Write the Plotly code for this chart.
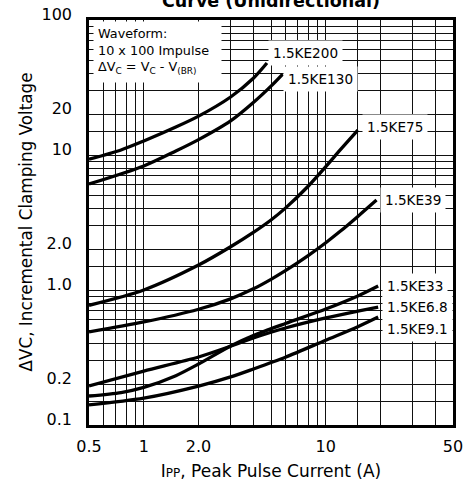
import numpy as np
import plotly.graph_objects as go

# ---- data (IPP in A, delta VC in V) ----
ipp_ke200 = [0.5, 0.75, 1.0, 1.5, 2.0, 3.0, 4.0, 4.75]
dvc_ke200 = [9.3, 10.9, 12.7, 16.1, 19.4, 26.9, 37.0, 48.0]

ipp_ke130 = [0.5, 1.0, 1.5, 2.0, 3.0, 4.0, 5.0, 5.8]
dvc_ke130 = [6.1, 8.3, 10.7, 13.0, 17.9, 24.5, 32.4, 39.8]

ipp_ke75 = [0.5, 1.0, 2.0, 3.0, 4.0, 5.0, 6.0, 8.0, 10.0, 12.0, 15.0]
dvc_ke75 = [0.77, 1.0, 1.53, 2.09, 2.67, 3.3, 4.04, 5.87, 8.2, 10.9, 15.3]

ipp_ke39 = [0.5, 1.0, 2.0, 3.0, 4.0, 5.0, 6.0, 8.0, 10.0, 12.0, 15.0, 19.0]
dvc_ke39 = [0.49, 0.58, 0.72, 0.86, 1.02, 1.2, 1.39, 1.8, 2.24, 2.72, 3.51, 4.64]

ipp_ke33 = [0.5, 0.75, 1.0, 1.5, 2.0, 3.0, 4.0, 6.0, 10.0, 15.0, 19.4]
dvc_ke33 = [0.164, 0.174, 0.19, 0.232, 0.283, 0.385, 0.46, 0.565, 0.723, 0.903, 1.07]

ipp_ke6v8 = [0.5, 1.0, 2.0, 3.0, 4.0, 6.0, 10.0, 15.0, 19.4]
dvc_ke6v8 = [0.195, 0.251, 0.319, 0.383, 0.441, 0.523, 0.621, 0.698, 0.748]

ipp_ke9v1 = [0.5, 1.0, 2.0, 3.0, 4.0, 6.0, 10.0, 15.0, 19.4]
dvc_ke9v1 = [0.141, 0.158, 0.194, 0.227, 0.26, 0.318, 0.425, 0.535, 0.631]

series = [
    ("1.5KE200", ipp_ke200, dvc_ke200),
    ("1.5KE130", ipp_ke130, dvc_ke130),
    ("1.5KE75", ipp_ke75, dvc_ke75),
    ("1.5KE39", ipp_ke39, dvc_ke39),
    ("1.5KE33", ipp_ke33, dvc_ke33),
    ("1.5KE6.8", ipp_ke6v8, dvc_ke6v8),
    ("1.5KE9.1", ipp_ke9v1, dvc_ke9v1),
]

x_tickvals = [0.5, 1, 2, 10, 50]
x_ticktext = ["0.5", "1", "2.0", "10", "50"]
x_minor = [0.6, 0.7, 0.8, 0.9, 3, 4, 5, 6, 7, 8, 9, 15, 20, 30, 40]

y_tickvals = [0.1, 0.2, 1, 2, 10, 20, 100]
y_ticktext = ["0.1", "0.2", "1.0", "2.0", "10", "20", "100"]
y_minor = [0.15, 0.3, 0.4, 0.5, 0.6, 0.7, 0.8, 0.9, 1.5, 3, 4, 5, 6, 7, 8, 9,
           15, 30, 40, 50, 60, 70, 80, 90]

# label offsets (px) relative to the curve end
label_yshift = {"1.5KE200": 10, "1.5KE130": -5, "1.5KE75": 3, "1.5KE39": 0,
                "1.5KE33": 0, "1.5KE6.8": 0, "1.5KE9.1": -12}
label_xshift = {"1.5KE200": 1, "1.5KE130": 0, "1.5KE75": 4, "1.5KE39": 3,
                "1.5KE33": 4, "1.5KE6.8": 4, "1.5KE9.1": 4}

FONT = "DejaVu Sans, Verdana, sans-serif"

fig = go.Figure()
for name, xs, ys in series:
    fig.add_trace(go.Scatter(
        x=xs, y=ys, mode="lines", name=name, showlegend=False,
        line=dict(color="black", width=3.3, shape="spline", smoothing=0.8),
    ))

annotations = []
for name, xs, ys in series:
    annotations.append(dict(
        x=np.log10(xs[-1]), y=np.log10(ys[-1]), xref="x", yref="y",
        text=name, showarrow=False, xanchor="left", yanchor="middle",
        xshift=label_xshift[name], yshift=label_yshift[name],
        font=dict(family=FONT, size=13.6, color="black"),
        bgcolor="white", borderpad=4,
    ))

annotations.append(dict(
    x=0, y=1, xref="paper", yref="paper", xanchor="left", yanchor="top",
    xshift=4, yshift=-1,
    text="Waveform:<br>10 x 100 Impulse<br>ΔV<sub>C</sub> = V<sub>C</sub> - V<sub>(BR)</sub>",
    showarrow=False, align="left", valign="top", width=119, height=52,
    font=dict(family=FONT, size=12.8, color="black"),
    bgcolor="white", borderpad=4,
))

# y-axis title
annotations.append(dict(
    x=0, y=0.5, xref="paper", yref="paper", xanchor="center", yanchor="middle",
    xshift=-64, textangle=-90, showarrow=False,
    text="ΔVC, Incremental Clamping Voltage",
    font=dict(family=FONT, size=16.8, color="black"),
))

fig.update_layout(
    width=471, height=481,
    margin=dict(l=89, r=18, t=20, b=56),
    paper_bgcolor="white", plot_bgcolor="white",
    font=dict(family=FONT, size=16, color="black"),
    title=dict(text="<b>Curve (Unidirectional)</b>", x=0.5, xref="paper",
               y=0.999, yref="container", yanchor="middle",
               font=dict(family=FONT, size=17.5, color="black")),
    annotations=annotations,
    xaxis=dict(
        type="log", range=[np.log10(0.5), np.log10(50)],
        tickmode="array", tickvals=x_tickvals, ticktext=x_ticktext,
        ticks="", ticklabelstandoff=5,
        tickfont=dict(family=FONT, size=16, color="black"),
        showgrid=True, gridcolor="#111111", gridwidth=1.3,
        minor=dict(tickmode="array", tickvals=x_minor, showgrid=True,
                   gridcolor="#111111", gridwidth=1.3, ticks=""),
        showline=True, mirror=True, linecolor="black", linewidth=2.6,
        zeroline=False, automargin=False,
        title=dict(text='I<span style="font-size:12px">PP</span>, Peak Pulse Current (A)',
                   font=dict(family=FONT, size=17, color="black"), standoff=11),
    ),
    yaxis=dict(
        type="log", range=[-1, 2],
        tickmode="array", tickvals=y_tickvals, ticktext=y_ticktext,
        ticks="", ticklabelstandoff=11, ticklabelshift=-6,
        tickfont=dict(family=FONT, size=16, color="black"),
        showgrid=True, gridcolor="#111111", gridwidth=1.3,
        minor=dict(tickmode="array", tickvals=y_minor, showgrid=True,
                   gridcolor="#111111", gridwidth=1.3, ticks=""),
        showline=True, mirror=True, linecolor="black", linewidth=2.6,
        zeroline=False, automargin=False,
    ),
)

fig.write_html("out.html",
               config={"displayModeBar": False},
               post_script="document.body.style.margin='0px';"
                           "document.body.style.overflow='hidden';")
